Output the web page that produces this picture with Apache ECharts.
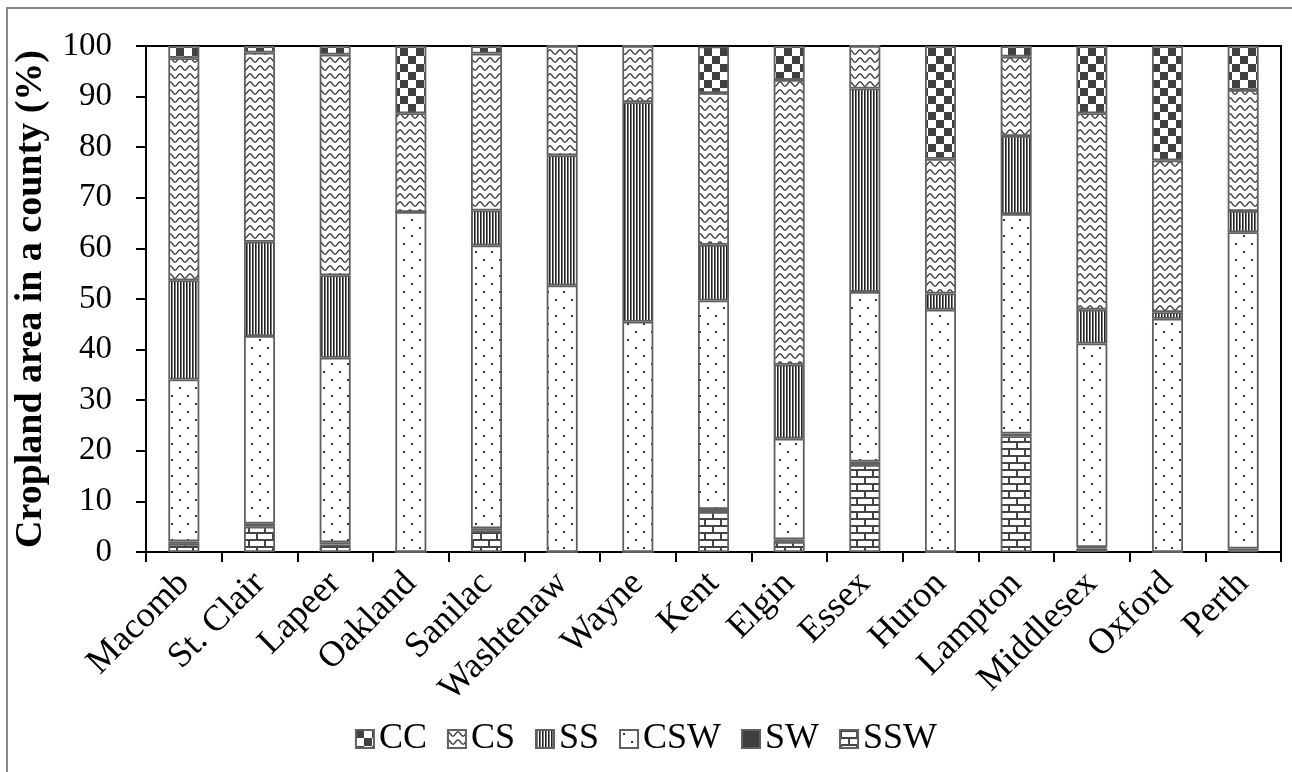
<!DOCTYPE html>
<html><head><meta charset="utf-8">
<script src="https://cdn.jsdelivr.net/npm/echarts@6/dist/echarts.min.js"></script>
<style>html,body{margin:0;padding:0;background:#fff}#c{width:1292px;height:772px}</style>
</head><body><div id="c"></div>
<script>
const counties = ['Macomb','St. Clair','Lapeer','Oakland','Sanilac','Washtenaw','Wayne','Kent','Elgin','Essex','Huron','Lampton','Middlesex','Oxford','Perth'];
const SSW = [1.6, 5.0, 1.5, 0, 4.2, 0, 0, 7.9, 2.0, 17.2, 0, 22.9, 0.7, 0, 0.3];
const SW  = [0.5, 0.6, 0.4, 0, 0.5, 0, 0, 0.6, 0.5, 0.7, 0, 0.5, 0.3, 0, 0.4];
const CSW = [32.0, 37.1, 36.5, 67.2, 55.9, 52.7, 45.5, 41.2, 19.9, 33.5, 47.9, 43.4, 40.2, 46.1, 62.5];
const SS  = [19.6, 18.6, 16.3, 0, 6.9, 25.7, 43.4, 11.0, 14.6, 40.2, 3.2, 15.4, 6.7, 1.3, 4.2];
const CS  = [43.9, 37.4, 43.6, 19.5, 31.0, 21.6, 11.1, 30.0, 56.3, 8.4, 26.6, 15.7, 38.8, 30.0, 23.9];
const CC  = [2.4, 1.3, 1.7, 13.3, 1.5, 0, 0, 9.2, 6.7, 0, 22.3, 2.1, 13.3, 22.6, 8.7];
const yTicks = [0,10,20,30,40,50,60,70,80,90,100];
const legendOrder = ['CC','CS','SS','CSW','SW','SSW'];

function mk(w,h,draw){const c=document.createElement('canvas');c.width=w;c.height=h;const g=c.getContext('2d');g.fillStyle='#fff';g.fillRect(0,0,w,h);draw(g);return {image:c,repeat:'repeat'};}
const pCC = mk(16,16,g=>{g.fillStyle='#404040';g.fillRect(0,0,8,8);g.fillRect(8,8,8,8);});
const pCS = mk(10,8,g=>{g.strokeStyle='#333';g.lineWidth=1.3;g.beginPath();for(let x=0;x<=10;x+=0.5){const y=4-2.2*Math.cos(2*Math.PI*x/10);if(x===0)g.moveTo(x,y);else g.lineTo(x,y);}g.stroke();});
const pSS = mk(3,4,g=>{g.fillStyle='#222';g.fillRect(0,0,1,4);g.fillStyle='#777';g.fillRect(1,0,1,4);});
const pCSW = mk(16,16,g=>{g.fillStyle='#333';g.fillRect(3,3,2,2);g.fillRect(11,11,2,2);});
const pSW = '#404040';
const pSSW = mk(16,14,g=>{g.fillStyle='#444';g.fillRect(0,0,16,2);g.fillRect(0,7,16,2);g.fillRect(0,0,2,7);g.fillRect(8,7,2,7);});

const font = "'Liberation Serif', 'Times New Roman', serif";
function ser(name,data,color){return {name,type:'bar',stack:'t',data,barWidth:'41%',itemStyle:{color,borderColor:'#606060',borderWidth:1.8},emphasis:{disabled:true}};}

const chart = echarts.init(document.getElementById('c'),null,{renderer:'canvas'});
chart.setOption({
  animation:false,
  backgroundColor:'#fff',
  textStyle:{fontFamily:font,color:'#000'},
  graphic:[{type:'polyline',shape:{points:[[7,800],[7,8],[1300,8]]},style:{fill:'none',stroke:'#888',lineWidth:2}}],
  grid:{left:146,right:11,top:46,bottom:220,show:true,borderColor:'#000',borderWidth:2,backgroundColor:'transparent'},
  legend:{bottom:10,left:'center',itemWidth:18,itemHeight:18,itemGap:20,icon:'rect',
    data:legendOrder,
    textStyle:{fontFamily:font,fontSize:36,color:'#000'}},
  xAxis:{type:'category',data:counties,
    axisLine:{lineStyle:{color:'#000',width:2}},
    axisTick:{show:true,length:10,lineStyle:{color:'#000',width:2}},
    axisLabel:{rotate:45,fontSize:36,fontFamily:font,color:'#000',margin:26,interval:0}},
  yAxis:{type:'value',min:0,max:100,interval:10,
    name:'Cropland area in a county (%)',nameLocation:'middle',nameGap:96,
    nameTextStyle:{fontFamily:font,fontSize:38,fontWeight:'bold',color:'#000'},
    axisLine:{show:true,lineStyle:{color:'#000',width:2}},
    axisTick:{show:true,length:10,lineStyle:{color:'#000',width:2}},
    splitLine:{show:false},
    axisLabel:{fontSize:33,fontFamily:font,color:'#000',margin:34,formatter:v=>yTicks.includes(v)?String(v):''}},
  series:[ser('SSW',SSW,pSSW),ser('SW',SW,pSW),ser('CSW',CSW,pCSW),ser('SS',SS,pSS),ser('CS',CS,pCS),ser('CC',CC,pCC)]
});
</script></body></html>
